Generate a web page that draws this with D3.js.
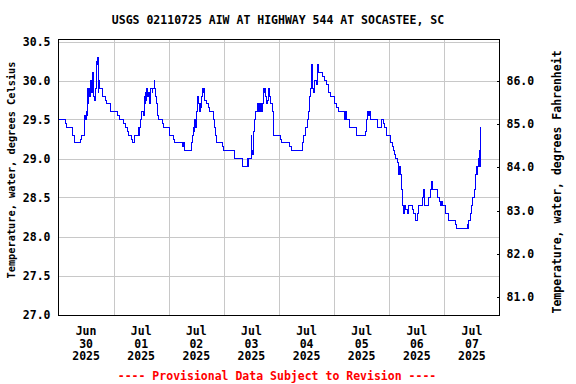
<!DOCTYPE html>
<html>
<head>
<meta charset="utf-8">
<script src="https://cdn.jsdelivr.net/npm/d3@7"></script>
<style>
  body { margin: 0; background: #fff; }
  svg { display: block; }
  text { font-family: "DejaVu Sans Mono", monospace; font-weight: bold; }
</style>
</head>
<body>
<script>
// water temperature, deg C, as [hour of day, value] change points (15-min data, step plot)
const jun30 = [
  [0, 29.5], [3.0, 29.45], [3.6, 29.4], [6.2, 29.3], [6.9, 29.2], [9.4, 29.25], [9.8, 29.3],
  [11.3, 29.5], [11.5, 29.55], [11.7, 29.5], [12.0, 29.6], [12.4, 29.55], [12.6, 29.7], [12.8, 29.9],
  [13.0, 29.7], [13.2, 29.8], [13.5, 29.9], [13.7, 29.8], [13.9, 30.0], [14.1, 29.9], [14.3, 30.0],
  [14.5, 29.85], [14.9, 30.1], [15.2, 29.9], [15.4, 29.8], [15.7, 29.75], [16.1, 29.9], [16.4, 30.2],
  [16.6, 30.25], [16.8, 30.2], [17.0, 30.3], [17.2, 30.15], [17.4, 29.85], [17.6, 30.0], [17.9, 29.9],
  [19.0, 29.8], [20.4, 29.75], [20.7, 29.7], [22.5, 29.6]
];
const jul01 = [
  [1.8, 29.55], [2.4, 29.5], [4.3, 29.45], [5.0, 29.4], [6.0, 29.35], [6.5, 29.3], [7.9, 29.25], [8.2, 29.2],
  [9.0, 29.3], [10.8, 29.4], [11.0, 29.3], [11.3, 29.4], [11.6, 29.5], [12.0, 29.55], [12.3, 29.6],
  [13.0, 29.55], [13.4, 29.8], [13.7, 29.7], [13.9, 29.85], [14.2, 29.75], [14.5, 29.9], [14.8, 29.8],
  [15.2, 29.85], [15.5, 29.7], [15.9, 29.75], [16.2, 29.9], [16.8, 29.85], [17.0, 29.9], [17.6, 30.0],
  [17.8, 29.9], [18.1, 29.8], [18.5, 29.7], [19.0, 29.55], [19.5, 29.5], [21.3, 29.45], [21.8, 29.4]
];
const jul02 = [
  [0.4, 29.3], [2.1, 29.25], [2.5, 29.2], [6.2, 29.15], [6.6, 29.2], [6.8, 29.1], [10.1, 29.2], [10.5, 29.3],
  [10.8, 29.4], [11.1, 29.35], [11.4, 29.5], [11.7, 29.4], [12.0, 29.6], [12.5, 29.65], [12.7, 29.8],
  [13.0, 29.7], [13.4, 29.6], [13.7, 29.7], [14.0, 29.65], [14.2, 29.8], [14.6, 29.9], [14.9, 29.85],
  [15.1, 29.9], [15.4, 29.8], [15.6, 29.75], [16.4, 29.7], [17.1, 29.65], [17.8, 29.6], [19.3, 29.5],
  [20.0, 29.4], [20.3, 29.3], [20.7, 29.2], [23.3, 29.15], [23.9, 29.1]
];
const jul03 = [
  [4.5, 29.0], [8.0, 28.9], [10.1, 29.0], [10.4, 28.9], [10.8, 29.0], [11.9, 29.3], [12.1, 29.1],
  [12.6, 29.05], [13.0, 29.35], [13.3, 29.5], [13.7, 29.6], [14.5, 29.7], [14.8, 29.6], [15.0, 29.7],
  [15.3, 29.6], [15.9, 29.7], [16.3, 29.6], [16.7, 29.7], [17.1, 29.9], [17.5, 29.85], [17.8, 29.9],
  [18.0, 29.8], [18.5, 29.7], [19.1, 29.75], [19.5, 29.9], [19.9, 29.8], [20.3, 29.7], [21.0, 29.6],
  [21.4, 29.4], [21.7, 29.3]
];
const jul04 = [
  [0.7, 29.25], [1.1, 29.2], [4.7, 29.15], [5.3, 29.1], [10.1, 29.2], [10.8, 29.3], [11.6, 29.4],
  [12.3, 29.5], [13.0, 29.6], [13.4, 29.8], [13.7, 29.9], [14.0, 30.2], [14.2, 29.9], [14.3, 30.2],
  [14.5, 30.0], [14.7, 29.9], [14.9, 29.85], [15.5, 30.0], [16.4, 29.95], [16.9, 30.2], [17.2, 30.1],
  [18.9, 30.05], [19.8, 30.0], [20.7, 29.95], [21.4, 29.85], [22.5, 29.8]
];
const jul05 = [
  [0.2, 29.7], [1.1, 29.65], [1.7, 29.6], [4.3, 29.5], [4.6, 29.6], [4.9, 29.5], [5.2, 29.6], [5.5, 29.5],
  [6.5, 29.4], [9.6, 29.35], [9.9, 29.3], [13.7, 29.35], [14.2, 29.5], [14.6, 29.6], [15.0, 29.55],
  [15.3, 29.6], [15.9, 29.5], [18.8, 29.4], [20.6, 29.5], [21.4, 29.45], [22.0, 29.4], [22.9, 29.3]
];
const jul06 = [
  [0.4, 29.2], [1.6, 29.15], [2.0, 29.1], [2.4, 29.05], [2.9, 29.0], [3.5, 28.95], [3.9, 28.8], [4.1, 28.9],
  [4.4, 28.8], [4.6, 28.9], [4.8, 28.8], [5.3, 28.6], [5.7, 28.4], [6.0, 28.3], [6.3, 28.4], [6.6, 28.3],
  [6.8, 28.4], [7.2, 28.35], [7.9, 28.3], [8.3, 28.4], [10.0, 28.35], [10.7, 28.3], [11.3, 28.2],
  [12.2, 28.3], [12.9, 28.4], [14.5, 28.5], [14.9, 28.6], [15.4, 28.4], [17.0, 28.5], [18.1, 28.6],
  [18.5, 28.7], [19.0, 28.6], [20.8, 28.5], [21.9, 28.45], [22.3, 28.4], [22.6, 28.45], [23.3, 28.4]
];
const jul07 = [
  [0.6, 28.3], [2.0, 28.2], [4.8, 28.15], [5.2, 28.1], [10.0, 28.15], [10.4, 28.1], [10.6, 28.2],
  [11.3, 28.3], [11.9, 28.4], [12.4, 28.5], [12.9, 28.6], [13.6, 28.8], [14.0, 28.9], [14.3, 28.8],
  [14.6, 28.9], [14.9, 29.0], [15.1, 28.9], [15.3, 29.1], [15.5, 28.9], [15.6, 29.4]
];
const days = [jun30, jul01, jul02, jul03, jul04, jul05, jul06, jul07];

// axis ticks
const celsiusTicks = [27.0, 27.5, 28.0, 28.5, 29.0, 29.5, 30.0, 30.5];
const fahrenheitTicks = [81, 82, 83, 84, 85, 86];

const title = "USGS 02110725 AIW AT HIGHWAY 544 AT SOCASTEE, SC";
const leftTitle = "Temperature, water, degrees Celsius";
const rightTitle = "Temperature, water, degrees Fahrenheit";
const footer = "---- Provisional Data Subject to Revision ----";

const width = 576;
const height = 384;
const start = Date.UTC(2025, 5, 30);
const end = Date.UTC(2025, 6, 8);
const hour = 3600 * 1000;

const data = [];
days.forEach((pts, i) => {
  pts.forEach(p => data.push({ t: new Date(start + (i * 24 + p[0]) * hour), v: p[1] }));
});

const x = d3.scaleUtc().domain([start, end]).range([58.5, 499.5]);
const y = d3.scaleLinear().domain([27, 30.5]).range([314.5, 41.5]);
const plotTop = 39.5, plotBottom = 315.5;

const svg = d3.select("body").append("svg")
  .attr("width", width)
  .attr("height", height);

// grid
const grid = svg.append("g")
  .attr("stroke", "#c8c8c8")
  .attr("stroke-width", 1)
  .attr("shape-rendering", "crispEdges");

grid.selectAll("line.h")
  .data(celsiusTicks)
  .join("line")
  .attr("class", "h")
  .attr("x1", x.range()[0]).attr("x2", x.range()[1])
  .attr("y1", d => Math.round(y(d)) + 0.5).attr("y2", d => Math.round(y(d)) + 0.5);

grid.selectAll("line.v")
  .data(d3.utcDay.range(new Date(start + 24 * hour), new Date(end)))
  .join("line")
  .attr("class", "v")
  .attr("x1", d => Math.round(x(d)) + 0.5).attr("x2", d => Math.round(x(d)) + 0.5)
  .attr("y1", plotTop).attr("y2", plotBottom);

// series
const line = d3.line()
  .x(d => x(d.t))
  .y(d => y(d.v))
  .curve(d3.curveStepAfter);

svg.append("path")
  .datum(data)
  .attr("fill", "none")
  .attr("stroke", "#0000ff")
  .attr("stroke-width", 1)
  .attr("shape-rendering", "crispEdges")
  .attr("d", line);

// frame
svg.append("rect")
  .attr("x", x.range()[0]).attr("y", plotTop)
  .attr("width", x.range()[1] - x.range()[0])
  .attr("height", plotBottom - plotTop)
  .attr("fill", "none")
  .attr("stroke", "#000")
  .attr("shape-rendering", "crispEdges");

// left axis (celsius)
const yLeft = svg.append("g")
  .attr("transform", `translate(${x.range()[0]},0)`)
  .call(d3.axisLeft(y).tickValues(celsiusTicks).tickSize(0).tickPadding(8).tickFormat(d3.format(".1f")));
yLeft.select(".domain").remove();

// right axis (fahrenheit), same scale via conversion
const toC = f => (f - 32) * 5 / 9;
const yRight = svg.append("g")
  .attr("transform", `translate(${x.range()[1]},0)`)
  .call(d3.axisRight(y).tickValues(fahrenheitTicks.map(toC)).tickSize(-3).tickPadding(7)
    .tickFormat(c => d3.format(".1f")(c * 9 / 5 + 32)));
yRight.select(".domain").remove();

svg.selectAll(".tick text")
  .attr("font-family", "DejaVu Sans Mono")
  .attr("font-weight", "bold")
  .attr("font-size", "11.5px")
  .attr("fill", "#000");
svg.selectAll(".tick line").attr("stroke", "#000").attr("shape-rendering", "crispEdges");

// date labels at noon
const noons = d3.range(8).map(i => new Date(start + (i * 24 + 12) * hour));
const dateLabel = svg.append("g")
  .attr("font-size", "11.5px")
  .attr("text-anchor", "middle")
  .selectAll("text")
  .data(noons)
  .join("text")
  .attr("x", d => x(d));
dateLabel.append("tspan").attr("y", 335).text(d3.utcFormat("%b"));
dateLabel.append("tspan").attr("x", d => x(d)).attr("y", 347.5).text(d3.utcFormat("%d"));
dateLabel.append("tspan").attr("x", d => x(d)).attr("y", 360).text(d3.utcFormat("%Y"));

// titles
svg.append("text")
  .attr("x", 278).attr("y", 24)
  .attr("text-anchor", "middle")
  .attr("font-size", "11.5px")
  .text(title);

svg.append("text")
  .attr("transform", "translate(15,170) rotate(-90)")
  .attr("text-anchor", "middle")
  .attr("font-size", "10.3px")
  .text(leftTitle);

svg.append("text")
  .attr("transform", "translate(561,182) rotate(-90)")
  .attr("text-anchor", "middle")
  .attr("font-size", "11.5px")
  .text(rightTitle);

svg.append("text")
  .attr("x", 277).attr("y", 379.5)
  .attr("text-anchor", "middle")
  .attr("font-size", "11.5px")
  .attr("fill", "#ff0000")
  .text(footer);
</script>
</body>
</html>
